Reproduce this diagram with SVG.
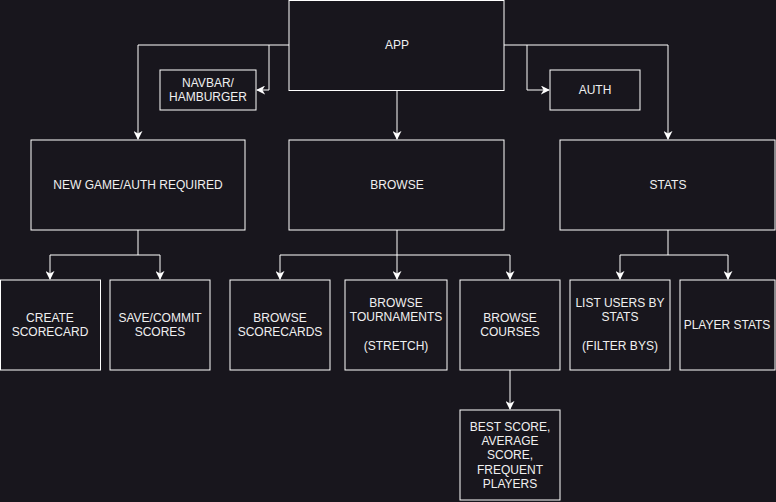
<svg xmlns="http://www.w3.org/2000/svg" width="776" height="502" viewBox="0 0 776 502">
<style>
.box{fill:#18161d;stroke:#ffffff;stroke-width:1}
.t{font-family:"Liberation Sans",Arial,sans-serif;font-size:12px;fill:#f0f0f0;text-anchor:middle}
.c{fill:none;stroke:#ffffff;stroke-width:1}
</style>
<defs>
<marker id="ah" viewBox="0 0 10 10" refX="9" refY="5" markerWidth="9" markerHeight="9" markerUnits="userSpaceOnUse" orient="auto">
<path d="M0,0 L10,5 L0,10 L3,5 z" fill="#ffffff"/>
</marker>
</defs>
<rect width="776" height="502" fill="#18161d"/>
<g id="connectors">
<path class="c" d="M289,45 H138 V139" marker-end="url(#ah)"/>
<path class="c" d="M269,45 V90 H257" marker-end="url(#ah)"/>
<path class="c" d="M504,45 H668 V139" marker-end="url(#ah)"/>
<path class="c" d="M527,45 V90 H549" marker-end="url(#ah)"/>
<path class="c" d="M397,90 V139" marker-end="url(#ah)"/>
<path class="c" d="M138,230 V255 H50 V279" marker-end="url(#ah)"/>
<path class="c" d="M138,255 H160 V279" marker-end="url(#ah)"/>
<path class="c" d="M397,230 V279" marker-end="url(#ah)"/>
<path class="c" d="M397,255 H280 V279" marker-end="url(#ah)"/>
<path class="c" d="M397,255 H510 V279" marker-end="url(#ah)"/>
<path class="c" d="M668,230 V255 H620 V279" marker-end="url(#ah)"/>
<path class="c" d="M668,255 H728 V279" marker-end="url(#ah)"/>
<path class="c" d="M510,370 V409" marker-end="url(#ah)"/>
</g>
<g id="app"><rect class="box" x="289" y="0.5" width="215" height="90"/><text class="t" x="397" y="49">APP</text></g>
<g id="navbar"><rect class="box" x="160" y="70" width="96" height="40"/><text class="t" x="208" y="87">NAVBAR/</text><text class="t" x="208" y="101">HAMBURGER</text></g>
<g id="auth"><rect class="box" x="550" y="70" width="90" height="40"/><text class="t" x="595" y="94">AUTH</text></g>
<g id="newgame"><rect class="box" x="31" y="140" width="214" height="90"/><text class="t" x="138" y="189">NEW GAME/AUTH REQUIRED</text></g>
<g id="browse"><rect class="box" x="289" y="140" width="215" height="90"/><text class="t" x="397" y="189">BROWSE</text></g>
<g id="stats"><rect class="box" x="560" y="140" width="215" height="90"/><text class="t" x="668" y="189">STATS</text></g>
<g id="create"><rect class="box" x="0.5" y="280" width="100" height="90"/><text class="t" x="50" y="322">CREATE</text><text class="t" x="50" y="336">SCORECARD</text></g>
<g id="save"><rect class="box" x="110" y="280" width="100" height="90"/><text class="t" x="160" y="322">SAVE/COMMIT</text><text class="t" x="160" y="336">SCORES</text></g>
<g id="bscorecards"><rect class="box" x="230" y="280" width="100" height="90"/><text class="t" x="280" y="322">BROWSE</text><text class="t" x="280" y="336">SCORECARDS</text></g>
<g id="btournaments"><rect class="box" x="345" y="280" width="102" height="90"/><text class="t" x="396" y="307">BROWSE</text><text class="t" x="396" y="321">TOURNAMENTS</text><text class="t" x="396" y="350">(STRETCH)</text></g>
<g id="bcourses"><rect class="box" x="460" y="280" width="100" height="90"/><text class="t" x="510" y="322">BROWSE</text><text class="t" x="510" y="336">COURSES</text></g>
<g id="listusers"><rect class="box" x="570" y="280" width="100" height="90"/><text class="t" x="620" y="307">LIST USERS BY</text><text class="t" x="620" y="321">STATS</text><text class="t" x="620" y="350">(FILTER BYS)</text></g>
<g id="playerstats"><rect class="box" x="680" y="280" width="95" height="90"/><text class="t" x="727" y="329">PLAYER STATS</text></g>
<g id="bestscore"><rect class="box" x="460" y="410" width="100" height="90"/><text class="t" x="510" y="431">BEST SCORE,</text><text class="t" x="510" y="445">AVERAGE</text><text class="t" x="510" y="459">SCORE,</text><text class="t" x="510" y="474">FREQUENT</text><text class="t" x="510" y="488">PLAYERS</text></g>
</svg>
